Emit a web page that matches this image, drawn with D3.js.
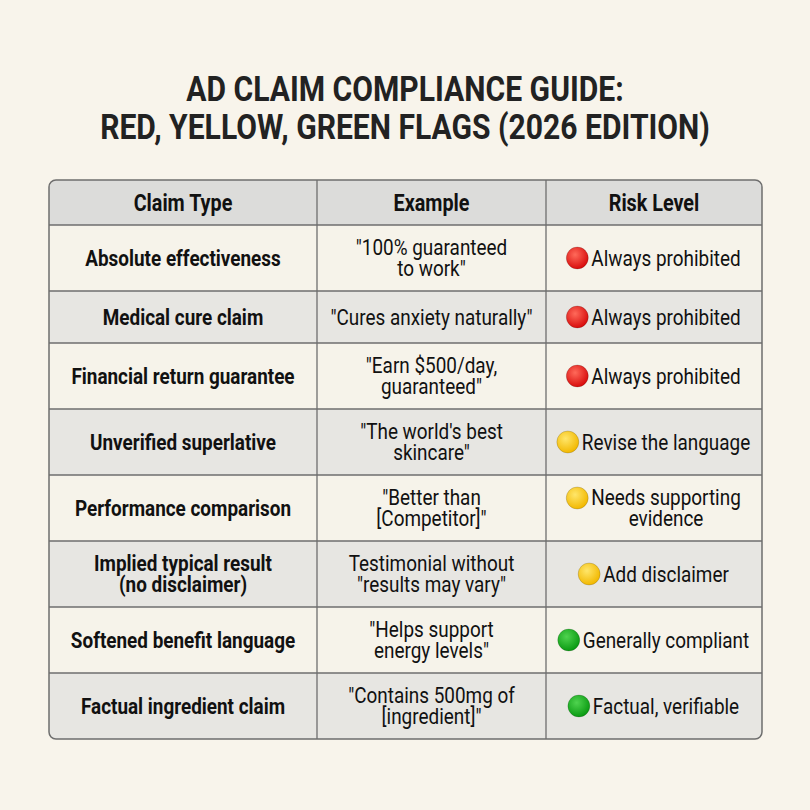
<!DOCTYPE html>
<html>
<head>
<meta charset="utf-8">
<script src="https://cdn.jsdelivr.net/npm/d3@7"></script>
<style>
  body { margin: 0; background: #f8f4eb; }
  svg { display: block; }
</style>
</head>
<body>
<svg id="chart" width="810" height="810"></svg>
<script>
const titleLines = ["AD CLAIM COMPLIANCE GUIDE:", "RED, YELLOW, GREEN FLAGS (2026 EDITION)"]
const columnNames = ["Claim Type", "Example", "Risk Level"]
const claimTypes = ["Absolute effectiveness", "Medical cure claim", "Financial return guarantee",
  "Unverified superlative", "Performance comparison", "Implied typical result\n(no disclaimer)",
  "Softened benefit language", "Factual ingredient claim"]
const examples = ["\"100% guaranteed\nto work\"", "\"Cures anxiety naturally\"", "\"Earn $500/day,\nguaranteed\"",
  "\"The world's best\nskincare\"", "\"Better than\n[Competitor]\"", "Testimonial without\n\"results may vary\"",
  "\"Helps support\nenergy levels\"", "\"Contains 500mg of\n[ingredient]\""]
const riskLevels = ["Always prohibited", "Always prohibited", "Always prohibited", "Revise the language",
  "Needs supporting\nevidence", "Add disclaimer", "Generally compliant", "Factual, verifiable"]
const riskFlags = ["red", "red", "red", "yellow", "yellow", "yellow", "green", "green"]

const svg = d3.select("#chart")
const defs = svg.append("defs")
const flagColors = { red: ["#ff6a5a", "#d80c0c"], yellow: ["#ffe66a", "#f2b800"], green: ["#4fd34f", "#0a9a12"] }
Object.entries(flagColors).forEach(([k, c]) => {
  const g = defs.append("radialGradient").attr("id", "g-" + k).attr("cx", "40%").attr("cy", "35%").attr("r", "65%")
  g.append("stop").attr("offset", "0%").attr("stop-color", c[0])
  g.append("stop").attr("offset", "100%").attr("stop-color", c[1])
})

svg.append("rect").attr("width", 810).attr("height", 810).attr("fill", "#f8f4eb")

svg.selectAll(".title").data(titleLines).enter().append("text")
  .attr("transform", (d, i) => `translate(405,${101 + i * 38}) scale(0.86,1)`)
  .attr("text-anchor", "middle")
  .style("font-family", "Roboto").style("font-weight", "bold").style("font-size", "35px")
  .attr("fill", "#222").text(d => d)

const tLeft = 49, tRight = 762, tTop = 180, headerH = 45
const colEdges = [tLeft, 317, 546, tRight]
const lines = d => d.split("\n").length
const rowH = claimTypes.map((c, i) => Math.max(lines(c), lines(examples[i]), lines(riskLevels[i])) > 1 ? 66 : 52)
const rowY = [tTop + headerH]
rowH.forEach((h, i) => rowY.push(rowY[i] + h))
const tBottom = rowY[rowY.length - 1]

const clip = defs.append("clipPath").attr("id", "tbl")
clip.append("rect").attr("x", tLeft).attr("y", tTop).attr("width", tRight - tLeft).attr("height", tBottom - tTop).attr("rx", 7)

const table = svg.append("g").attr("clip-path", "url(#tbl)")
table.append("rect").attr("x", tLeft).attr("y", tTop).attr("width", tRight - tLeft).attr("height", headerH).attr("fill", "#dcdcda")
table.selectAll(".row").data(rowH).enter().append("rect")
  .attr("x", tLeft).attr("y", (d, i) => rowY[i]).attr("width", tRight - tLeft).attr("height", d => d)
  .attr("fill", (d, i) => i % 2 === 0 ? "#f6f3ea" : "#e7e6e2")

// grid lines
const grid = svg.append("g").attr("stroke", "#6e6e6e").attr("stroke-width", 1.3)
grid.selectAll(".h").data(rowY.slice(0, -1)).enter().append("line")
  .attr("x1", tLeft).attr("x2", tRight).attr("y1", d => d).attr("y2", d => d)
grid.selectAll(".v").data(colEdges.slice(1, -1)).enter().append("line")
  .attr("x1", d => d).attr("x2", d => d).attr("y1", tTop).attr("y2", tBottom)
svg.append("rect").attr("x", tLeft).attr("y", tTop).attr("width", tRight - tLeft).attr("height", tBottom - tTop)
  .attr("rx", 7).attr("fill", "none").attr("stroke", "#6e6e6e").attr("stroke-width", 1.5)

const sx = 0.86
function cellText(str, cx, cy, bold, size) {
  const parts = str.split("\n")
  const t = svg.append("text")
    .attr("transform", `translate(${cx},${cy}) scale(${sx},1)`)
    .attr("text-anchor", "middle")
    .style("font-family", "Roboto").style("font-size", size + "px")
    .style("font-weight", bold ? "bold" : "normal").attr("fill", "#111")
  parts.forEach((p, i) => {
    t.append("tspan").attr("x", 0)
      .attr("y", (i - (parts.length - 1) / 2) * 21 + size * 0.36)
      .text(p)
  })
  return t
}

const colMid = i => (colEdges[i] + colEdges[i + 1]) / 2
columnNames.forEach((c, i) => cellText(c, colMid(i), tTop + headerH / 2, true, 23))

claimTypes.forEach((c, i) => {
  const cy = rowY[i] + rowH[i] / 2
  cellText(c, colMid(0), cy, true, 22)
  cellText(examples[i], colMid(1), cy, false, 22)
  const tx = colMid(2) + 12
  const t = cellText(riskLevels[i], tx, cy, false, 22)
  const firstW = t.select("tspan").node().getComputedTextLength() * sx
  const dy = riskLevels[i].includes("\n") ? -10 : 0
  svg.append("circle").attr("cx", tx - firstW / 2 - 14).attr("cy", cy + dy).attr("r", 11)
    .attr("fill", `url(#g-${riskFlags[i]})`).attr("stroke", "#00000033").attr("stroke-width", 0.8)
})
</script>
</body>
</html>
